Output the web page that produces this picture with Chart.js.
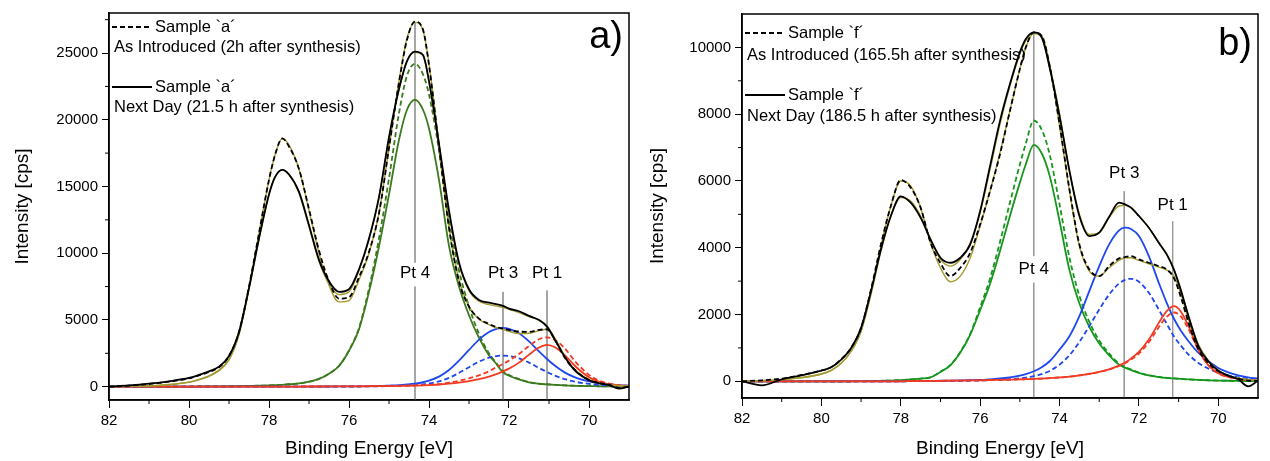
<!DOCTYPE html>
<html>
<head>
<meta charset="utf-8">
<script src="https://cdn.jsdelivr.net/npm/chart.js@4/dist/chart.umd.min.js"></script>
<style>
html, body { margin: 0; padding: 0; background: #fff; }
#wrap { position: relative; width: 1270px; height: 461px; }
.box { position: absolute; top: 0; width: 635px; height: 461px; }
</style>
</head>
<body>
<div id="wrap">
  <div class="box" style="left:0"><canvas id="chartA" width="635" height="461"></canvas></div>
  <div class="box" style="left:635px"><canvas id="chartB" width="635" height="461"></canvas></div>
</div>
<script>
// panel a) sample `a´
const aX = [82, 81.5, 81, 80.5, 80, 79.75, 79.5, 79.25, 79, 78.75, 78.5, 78.25, 78, 77.85, 77.67, 77.5, 77.25, 77, 76.75, 76.5, 76.25, 76, 75.75, 75.5, 75.25, 75, 74.75, 74.55, 74.35, 74.15, 74, 73.75, 73.5, 73.25, 73, 72.75, 72.5, 72.35, 72.15, 72, 71.75, 71.5, 71.25, 71.05, 70.85, 70.6, 70.35, 70, 69.75, 69.5, 69.25, 69];
const aMeasDash = [0, 80, 200, 380, 620, 850, 1100, 1450, 2300, 4100, 7500, 11500, 15500, 17350, 18600, 18000, 16300, 13300, 10200, 7900, 6600, 6700, 8200, 10100, 13000, 17900, 22800, 26000, 27350, 26750, 24100, 18000, 11900, 7900, 6000, 5100, 4700, 4500, 4350, 4250, 4130, 4100, 4250, 4300, 3500, 2150, 1250, 500, 280, 150, -100, 0];
const aFitDash = [0, 20, 50, 150, 330, 520, 780, 1200, 2000, 3900, 7400, 11500, 15500, 17350, 18600, 18100, 16300, 13200, 10000, 7600, 6350, 6450, 8000, 10000, 13000, 17900, 22900, 26100, 27300, 26700, 24200, 18000, 11900, 8000, 6000, 5050, 4650, 4450, 4300, 4150, 3980, 4000, 4200, 4300, 3600, 2200, 1250, 520, 270, 140, 70, 40];
const aMeasSolid = [0, 90, 220, 400, 650, 880, 1150, 1500, 2300, 4100, 7400, 11100, 14400, 15700, 16250, 15900, 14600, 12100, 9500, 7900, 7100, 7300, 8800, 11100, 14200, 18700, 22300, 24400, 25100, 24850, 22900, 18200, 13200, 9300, 7300, 6500, 6300, 6200, 6050, 5850, 5650, 5300, 5000, 4500, 3500, 2200, 1200, 480, 250, 120, -150, 0];
const aFitSolid = [0, 20, 55, 160, 340, 540, 800, 1250, 2050, 3950, 7300, 11100, 14400, 15700, 16250, 15900, 14500, 12000, 9400, 7700, 6900, 7100, 8700, 11000, 14200, 18600, 22300, 24400, 25050, 24800, 22800, 18100, 13100, 9200, 7200, 6400, 6150, 6050, 5950, 5800, 5550, 5250, 5000, 4550, 3600, 2250, 1250, 500, 260, 130, 65, 35];
const aPt4Solid = [0, 0, 0, 0, 0, 10, 15, 20, 30, 40, 55, 70, 90, 110, 140, 180, 240, 370, 580, 970, 1550, 2690, 4300, 7100, 10500, 14400, 18500, 20750, 21500, 20750, 19350, 15500, 10550, 7500, 5350, 3650, 2350, 1830, 1080, 820, 540, 320, 215, 170, 130, 90, 65, 40, 30, 20, 15, 10];
const aPt4Dash = [0, 0, 0, 0, 0, 10, 15, 20, 30, 40, 55, 70, 90, 110, 140, 180, 240, 370, 580, 970, 1560, 2720, 4400, 7350, 11100, 15600, 20500, 23300, 24200, 23400, 21900, 17700, 12500, 8700, 6000, 3950, 2500, 1900, 1150, 870, 570, 340, 225, 180, 140, 95, 70, 45, 32, 22, 16, 11];
const aPt3Solid = [0, 0, 0, 0, 0, 0, 0, 0, 0, 0, 0, 0, 2, 3, 4, 5, 6, 8, 10, 12, 15, 18, 25, 35, 50, 80, 115, 165, 230, 330, 450, 750, 1250, 1950, 2750, 3530, 4100, 4290, 4400, 4330, 4000, 3390, 2640, 2070, 1560, 1050, 700, 400, 260, 175, 120, 80];
const aPt3Dash = [0, 0, 0, 0, 0, 0, 0, 0, 0, 0, 0, 0, 1, 2, 2, 3, 3, 4, 5, 6, 8, 10, 13, 19, 27, 42, 61, 87, 122, 175, 240, 400, 660, 1030, 1460, 1870, 2170, 2270, 2330, 2300, 2120, 1800, 1400, 1100, 830, 560, 370, 210, 140, 93, 64, 42];
const aPt1Solid = [0, 0, 0, 0, 0, 0, 0, 0, 0, 0, 2, 3, 4, 5, 6, 7, 8, 10, 12, 14, 16, 20, 25, 30, 37, 45, 56, 68, 82, 100, 120, 160, 220, 300, 410, 560, 750, 900, 1150, 1350, 1800, 2400, 2930, 3130, 2950, 2350, 1550, 700, 360, 180, 90, 50];
const aPt1Dash = [0, 0, 0, 0, 0, 0, 0, 0, 0, 0, 3, 4, 5, 6, 7, 8, 10, 12, 14, 16, 19, 22, 27, 33, 40, 48, 60, 72, 90, 110, 130, 180, 310, 440, 620, 850, 1150, 1400, 1700, 1950, 2450, 3050, 3550, 3700, 3500, 2850, 1900, 880, 450, 220, 110, 60];
const aYTicks = [0, 5000, 10000, 15000, 20000, 25000];
const aYMinor = [2500, 7500, 12500, 17500, 22500, 27500];
const aPeakPos = [74.35, 72.15, 71.05];
const aPeakTop = [27300, 7100, 7200];
const aPeakGap = [[9300, 7500], null, null];
const aPeakLabelY = [8530, 8530, 8530];
const aLegendNames = ['Sample `a´', 'Sample `a´'];
const aLegendNotes = ['As Introduced (2h after synthesis)', 'Next Day (21.5 h after synthesis)'];

// panel b) sample `f´
const bX = [82, 81.5, 81, 80.5, 80, 79.75, 79.5, 79.25, 79, 78.75, 78.5, 78.25, 78, 77.75, 77.5, 77.25, 77, 76.75, 76.5, 76.25, 76, 75.75, 75.5, 75.25, 75, 74.85, 74.65, 74.45, 74.25, 74, 73.75, 73.5, 73.25, 73, 72.75, 72.5, 72.35, 72.2, 72, 71.75, 71.5, 71.3, 71.12, 70.95, 70.75, 70.5, 70.25, 70, 69.75, 69.5, 69.25, 69];
const bMeasDash = [0, 30, 80, 190, 320, 430, 660, 1000, 1600, 2750, 4100, 5250, 6030, 5800, 5200, 4150, 3540, 3150, 3400, 3850, 4700, 5700, 6800, 8100, 9350, 10000, 10450, 10350, 9450, 7700, 5750, 4100, 3350, 3150, 3450, 3680, 3720, 3750, 3650, 3550, 3450, 3350, 3100, 2550, 1750, 950, 550, 300, 170, 80, 20, 10];
const bFitDash = [0, 20, 50, 110, 220, 330, 540, 900, 1500, 2650, 4050, 5250, 6000, 5850, 5200, 4150, 3400, 2980, 3150, 3700, 4650, 5700, 6850, 8100, 9350, 10000, 10420, 10350, 9500, 7650, 5700, 4050, 3300, 3150, 3400, 3620, 3700, 3700, 3620, 3520, 3420, 3330, 3150, 2650, 1850, 1050, 600, 320, 170, 90, 45, 25];
const bMeasSolid = [0, -120, 60, 180, 320, 420, 650, 1000, 1600, 2700, 3950, 4950, 5540, 5350, 4900, 4250, 3700, 3550, 3700, 4100, 5100, 6450, 7800, 8900, 9850, 10250, 10450, 10300, 9400, 7950, 6300, 4950, 4350, 4450, 4930, 5350, 5300, 5200, 4950, 4600, 4150, 3800, 3350, 2750, 1950, 1050, 600, 320, 170, 60, -150, 20];
const bFitSolid = [0, 20, 50, 110, 220, 330, 540, 900, 1500, 2600, 3900, 4950, 5500, 5400, 4950, 4250, 3650, 3450, 3650, 4150, 5050, 6350, 7700, 8850, 9800, 10200, 10420, 10300, 9450, 8000, 6300, 5000, 4400, 4450, 4900, 5250, 5270, 5200, 4950, 4600, 4150, 3800, 3350, 2780, 1950, 1100, 620, 330, 170, 90, 45, 25];
const bPt4Solid = [0, 0, 0, 0, 0, 0, 0, 0, 5, 10, 15, 20, 35, 55, 80, 120, 280, 480, 860, 1400, 2130, 2920, 3900, 4950, 5950, 6500, 7080, 6830, 6160, 4800, 3330, 2330, 1630, 1130, 780, 500, 410, 340, 250, 175, 125, 100, 85, 70, 55, 40, 30, 22, 16, 12, 9, 7];
const bPt4Dash = [0, 0, 0, 0, 0, 0, 0, 0, 5, 10, 15, 20, 35, 55, 80, 120, 285, 490, 880, 1420, 2220, 3080, 4170, 5350, 6490, 7120, 7810, 7540, 6800, 5300, 3700, 2560, 1780, 1220, 830, 530, 430, 355, 260, 180, 130, 104, 88, 72, 57, 41, 31, 23, 17, 12, 9, 7];
const bPt3Solid = [0, 0, 0, 0, 0, 0, 0, 0, 0, 0, 0, 0, 0, 5, 8, 12, 16, 20, 25, 32, 40, 60, 85, 115, 170, 215, 300, 420, 600, 950, 1350, 1950, 2700, 3450, 4100, 4520, 4600, 4560, 4350, 3750, 2950, 2350, 1880, 1530, 1200, 850, 600, 400, 270, 180, 120, 85];
const bPt3Dash = [0, 0, 0, 0, 0, 0, 0, 0, 0, 0, 0, 0, 0, 3, 5, 7, 9, 12, 15, 19, 24, 33, 45, 62, 90, 112, 155, 215, 310, 500, 780, 1180, 1650, 2150, 2600, 2930, 3040, 3070, 2980, 2650, 2150, 1720, 1350, 1080, 800, 550, 380, 255, 175, 120, 82, 58];
const bPt1Solid = [0, 0, 0, 0, 0, 0, 0, 0, 0, 0, 0, 0, 0, 8, 10, 12, 15, 18, 21, 25, 30, 36, 43, 50, 58, 64, 72, 82, 95, 115, 140, 175, 220, 280, 360, 470, 560, 680, 880, 1250, 1750, 2100, 2250, 2100, 1650, 950, 480, 240, 130, 75, 45, 30];
const bPt1Dash = [0, 0, 0, 0, 0, 0, 0, 0, 0, 0, 0, 0, 0, 8, 10, 12, 15, 18, 21, 25, 30, 36, 43, 50, 58, 64, 72, 82, 95, 115, 140, 175, 220, 280, 360, 460, 540, 650, 830, 1170, 1620, 1930, 2060, 1950, 1560, 930, 480, 240, 130, 75, 45, 30];
const bYTicks = [0, 2000, 4000, 6000, 8000, 10000];
const bYMinor = [1000, 3000, 5000, 7000, 9000];
const bPeakPos = [74.65, 72.37, 71.15];
const bPeakTop = [10450, 5690, 4790];
const bPeakGap = [[3750, 2950], null, null];
const bPeakLabelY = [3350, 6220, 5260];
const bLegendNames = ['Sample `f´', 'Sample `f´'];
const bLegendNotes = ['As Introduced (165.5h after synthesis)', 'Next Day (186.5 h after synthesis)'];

const xTicks = [82, 80, 78, 76, 74, 72, 70];
const xMinor = [81, 79, 77, 75, 73, 71];
const peakNames = ['Pt 4', 'Pt 3', 'Pt 1'];

const FONT = 'Arial, "Liberation Sans", Helvetica, sans-serif';
Chart.defaults.font.family = FONT;
Chart.defaults.color = '#000';

const OLIVE = '#a39a30';
const BLUE = '#1f47f0';
const RED = '#f23a22';
const DASH = [5, 3];

function curve(xs, ys, color, width, dash) {
    return {
        data: xs.map((x, i) => ({ x: x, y: ys[i] })),
        borderColor: color,
        borderWidth: width,
        borderDash: dash || [],
        pointRadius: 0,
        fill: false,
        cubicInterpolationMode: 'monotone'
    };
}

function marker(x, top, gap, min) {
    let pts = [{ x: x, y: top }];
    if (gap) pts.push({ x: x, y: gap[0] }, { x: x, y: null }, { x: x, y: gap[1] });
    pts.push({ x: x, y: min });
    return { data: pts, borderColor: '#999', borderWidth: 1, pointRadius: 0, spanGaps: false, tension: 0 };
}

const decor = {
    id: 'decor',
    afterDatasetsDraw(chart, args, o) {
        const ctx = chart.ctx, a = chart.chartArea;
        const xs = chart.scales.x, ys = chart.scales.y;
        ctx.save();
        ctx.strokeStyle = '#000';
        ctx.lineWidth = 1.5;
        ctx.strokeRect(a.left, a.top, a.right - a.left, a.bottom - a.top);

        ctx.lineWidth = 1;
        ctx.beginPath();
        o.xMinor.forEach(v => {
            let p = xs.getPixelForValue(v);
            ctx.moveTo(p, a.bottom);
            ctx.lineTo(p, a.bottom + 4);
        });
        o.yMinor.forEach(v => {
            let p = ys.getPixelForValue(v);
            ctx.moveTo(a.left, p);
            ctx.lineTo(a.left - 4, p);
        });
        ctx.stroke();

        // legend inside the plot, top left
        ctx.fillStyle = '#000';
        ctx.textBaseline = 'middle';
        ctx.textAlign = 'left';
        ctx.font = '16.5px ' + FONT;
        o.names.forEach((name, i) => {
            let y1 = a.top + o.legendY[i * 2], y2 = a.top + o.legendY[i * 2 + 1];
            ctx.setLineDash(i === 0 ? DASH : []);
            ctx.lineWidth = 2;
            ctx.beginPath();
            ctx.moveTo(a.left + 3, y1);
            ctx.lineTo(a.left + 43, y1);
            ctx.stroke();
            ctx.setLineDash([]);
            ctx.fillText(name, a.left + 46, y1);
            ctx.fillText(o.notes[i], a.left + 5, y2);
        });

        ctx.textAlign = 'center';
        ctx.font = '17px ' + FONT;
        peakNames.forEach((t, i) => {
            ctx.fillText(t, xs.getPixelForValue(o.peakPos[i]), ys.getPixelForValue(o.peakLabelY[i]));
        });

        ctx.textAlign = 'right';
        ctx.font = '38px ' + FONT;
        ctx.fillText(o.letter, a.right - 6, a.top + o.letterDy);
        ctx.restore();
    }
};

function makeChart(id, p) {
    let ds = [
        curve(p.x, p.measSolid, '#000', 1.8),
        curve(p.x, p.measDash, '#000', 1.8, DASH),
        curve(p.x, p.fitSolid, OLIVE, 1.4),
        curve(p.x, p.fitDash, OLIVE, 1.4),
        curve(p.x, p.pt1Solid, RED, 1.8),
        curve(p.x, p.pt1Dash, RED, 1.8, DASH),
        curve(p.x, p.pt3Solid, BLUE, 1.8),
        curve(p.x, p.pt3Dash, BLUE, 1.8, DASH),
        curve(p.x, p.pt4Solid, p.green, 1.8),
        curve(p.x, p.pt4Dash, p.green, 1.8, DASH)
    ];
    p.peakPos.forEach((x, i) => ds.push(marker(x, p.peakTop[i], p.peakGap[i], p.yMin)));

    return new Chart(document.getElementById(id), {
        type: 'line',
        data: { datasets: ds },
        options: {
            responsive: false,
            animation: false,
            events: [],
            layout: { padding: { left: 0, right: p.padRight, top: p.padTop, bottom: 0 } },
            plugins: {
                legend: { display: false },
                tooltip: { enabled: false },
                decor: {
                    xMinor: xMinor, yMinor: p.yMinor,
                    names: p.names, notes: p.notes, legendY: p.legendY,
                    peakPos: p.peakPos, peakLabelY: p.peakLabelY,
                    letter: p.letter, letterDy: p.letterDy
                }
            },
            scales: {
                x: {
                    type: 'linear', reverse: true, min: 69, max: 82,
                    afterBuildTicks: s => { s.ticks = xTicks.map(v => ({ value: v })); },
                    afterFit: s => { s.height = p.xHeight; },
                    ticks: { font: { size: 15 }, padding: 4, maxRotation: 0, callback: v => String(v) },
                    grid: { drawOnChartArea: false, tickLength: 8, color: '#000' },
                    border: { color: '#000', width: 1.5 },
                    title: { display: true, text: 'Binding Energy [eV]', font: { size: 19 }, padding: { top: 0, bottom: 1 } }
                },
                y: {
                    type: 'linear', min: p.yMin, max: p.yMax,
                    afterBuildTicks: s => { s.ticks = p.yTicks.map(v => ({ value: v })); },
                    afterFit: s => { s.width = p.yWidth; },
                    ticks: { font: { size: 15 }, padding: 4, callback: v => String(v) },
                    grid: { drawOnChartArea: false, tickLength: 7, color: '#000' },
                    border: { color: '#000', width: 1.5 },
                    title: { display: true, text: 'Intensity [cps]', font: { size: 19 }, padding: { top: 11, bottom: 0 } }
                }
            }
        },
        plugins: [decor]
    });
}

makeChart('chartA', {
    x: aX, measDash: aMeasDash, fitDash: aFitDash, measSolid: aMeasSolid, fitSolid: aFitSolid,
    pt4Solid: aPt4Solid, pt4Dash: aPt4Dash, pt3Solid: aPt3Solid, pt3Dash: aPt3Dash,
    pt1Solid: aPt1Solid, pt1Dash: aPt1Dash, green: '#3b7a1e',
    yMin: -1000, yMax: 28000, yTicks: aYTicks, yMinor: aYMinor,
    peakPos: aPeakPos, peakTop: aPeakTop, peakGap: aPeakGap, peakLabelY: aPeakLabelY,
    names: aLegendNames, notes: aLegendNotes, legendY: [14, 34, 74, 94],
    letter: 'a)', letterDy: 25,
    padRight: 6, padTop: 13, yWidth: 109, xHeight: 61
});

makeChart('chartB', {
    x: bX, measDash: bMeasDash, fitDash: bFitDash, measSolid: bMeasSolid, fitSolid: bFitSolid,
    pt4Solid: bPt4Solid, pt4Dash: bPt4Dash, pt3Solid: bPt3Solid, pt3Dash: bPt3Dash,
    pt1Solid: bPt1Solid, pt1Dash: bPt1Dash, green: '#16961c',
    yMin: -500, yMax: 11000, yTicks: bYTicks, yMinor: bYMinor,
    peakPos: bPeakPos, peakTop: bPeakTop, peakGap: bPeakGap, peakLabelY: bPeakLabelY,
    names: bLegendNames, notes: bLegendNotes, legendY: [19, 41, 81, 102],
    letter: 'b)', letterDy: 31,
    padRight: 12, padTop: 14, yWidth: 107, xHeight: 63
});
</script>
</body>
</html>
